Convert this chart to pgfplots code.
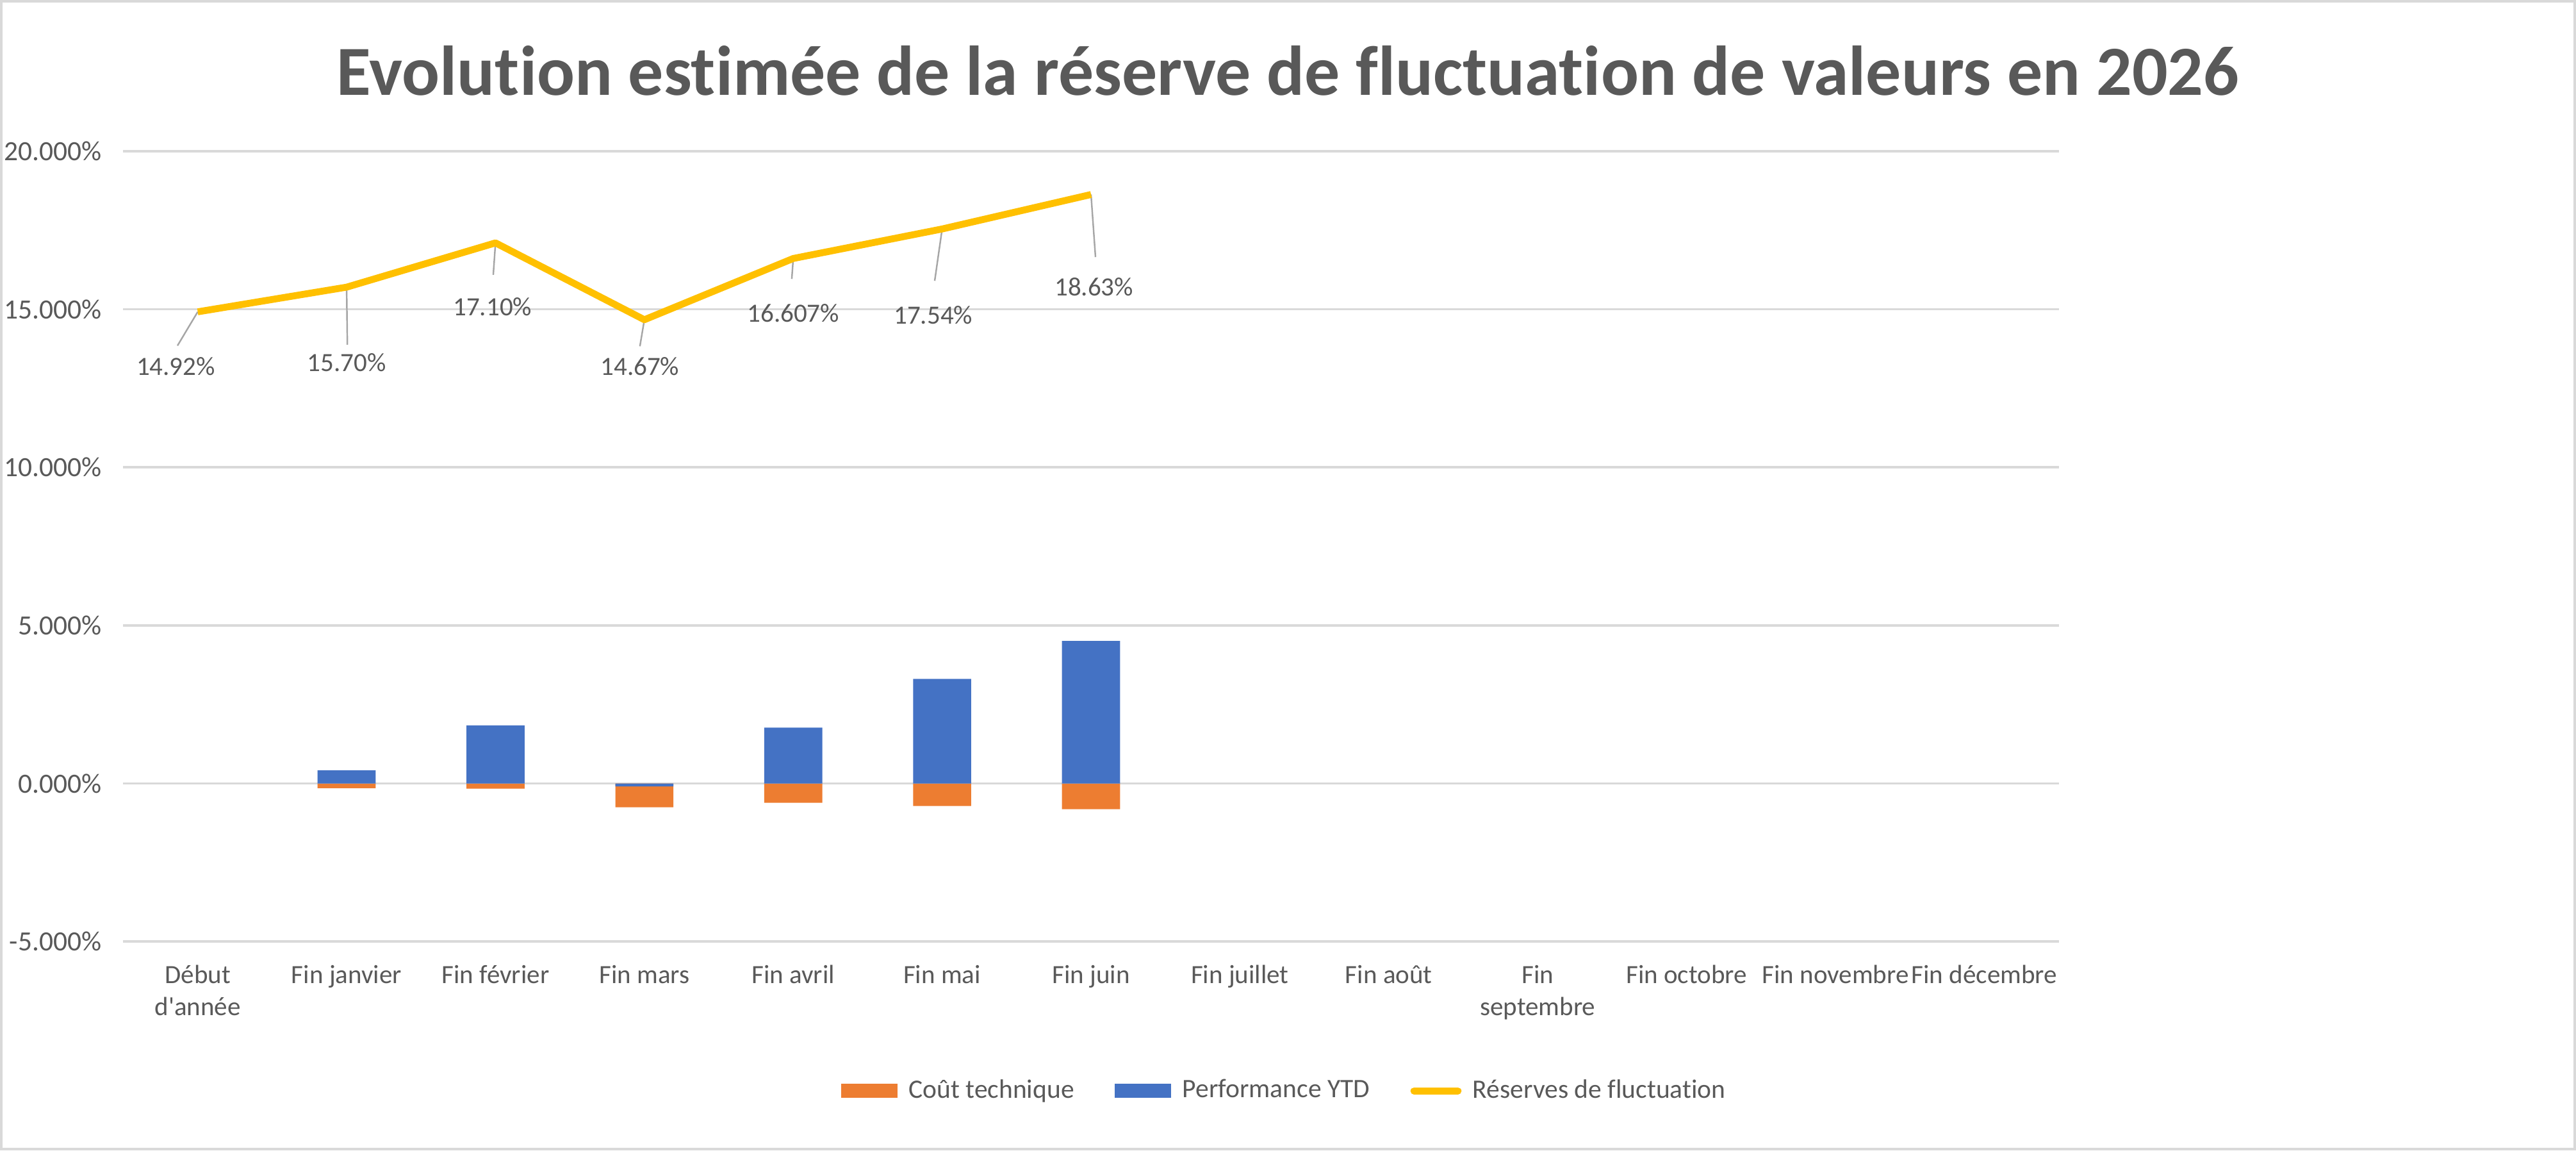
\documentclass[border=0pt]{standalone}
\usepackage{fontspec}
\setmainfont{Carlito}[Ligatures=NoCommon]
\usepackage{pgfplots}
\usepackage{pgfplotstable}
\pgfplotsset{compat=1.18}
\definecolor{txt}{HTML}{595959}
\definecolor{grd}{HTML}{D9D9D9}
\definecolor{cor}{HTML}{ED7D31}
\definecolor{cbl}{HTML}{4472C4}
\definecolor{cye}{HTML}{FFC000}
\definecolor{lead}{HTML}{A6A6A6}

\pgfplotstableread{
x y
0 14.92
1 15.70
2 17.10
3 14.67
4 16.607
5 17.54
6 18.63
}\reserve

\pgfplotstableread{
x y
1 -0.145
2 -0.16
3 -0.75
4 -0.61
5 -0.71
6 -0.81
}\cout

\pgfplotstableread{
x y
1 0.42
2 1.84
3 -0.09
4 1.77
5 3.31
6 4.51
}\perf

\pgfplotstableread{
x y lbl
-0.147 13.20 14.92
1.001 13.31 15.70
1.98 15.07 17.10
2.97 13.20 14.67
4.00 14.87 16.607
4.94 14.81 17.54
6.02 15.70 18.63
}\labels

\pgfplotstableread{
x y
0 14.92
-0.136 13.85
nan nan
1 15.70
1.005 13.88
nan nan
2 17.10
1.985 16.09
nan nan
3 14.67
2.97 13.83
nan nan
4 16.607
3.99 15.96
nan nan
5 17.54
4.95 15.90
nan nan
6 18.63
6.03 16.65
}\leaders

\begin{document}
\begin{tikzpicture}[x=1pt,y=1pt]
\useasboundingbox (0,0) rectangle (823.2,367.5);
\draw[grd, line width=0.75pt] (0.4,0.4) rectangle (822.8,367.1);
\node[anchor=base, font=\fontsize{22.5}{26}\selectfont\bfseries, text=txt] at (411.6,337) {Evolution estimée de la réserve de fluctuation de valeurs en 2026};
\begin{axis}[
  at={(39.4pt,66.7pt)}, anchor=south west,
  scale only axis, width=618.5pt, height=252.5pt,
  xmin=-0.5, xmax=12.5, ymin=-5, ymax=20,
  ytick={-5,0,5,10,15,20},
  yticklabels={-5.000\%,0.000\%,5.000\%,10.000\%,15.000\%,20.000\%},
  xtick={0,...,12},
  xticklabels={{Début\\d\textquotesingle année},Fin janvier,Fin février,Fin mars,Fin avril,Fin mai,Fin juin,Fin juillet,Fin août,{Fin\\septembre},Fin octobre,Fin novembre,Fin décembre},
  tick label style={font=\fontsize{8.4}{10.2}\selectfont, text=txt},
  xticklabel style={align=center, yshift=-4pt},
  yticklabel style={inner sep=0pt, xshift=-6.8pt, font=\fontsize{8.9}{10.2}\selectfont},
  axis line style={draw=none},
  major tick length=0pt,
  ymajorgrids, grid style={grd, line width=0.75pt},
  legend style={at={(0.601,-0.189)}, anchor=center, draw=none, legend columns=3,
    font=\fontsize{8.5}{10}\selectfont, text=txt,
    /tikz/every odd column/.append style={column sep=1.6pt},
    /tikz/every even column/.append style={column sep=11pt}},
  legend cell align=left,
]
\addplot[ybar, fill=cor, draw=none, bar width=0.39, bar shift=0pt,
  legend image code/.code={\fill[cor] (0pt,-2.25pt) rectangle (18pt,2.25pt);}] table {\cout};
\addlegendentry{Coût technique}
\addplot[ybar, fill=cbl, draw=none, bar width=0.39, bar shift=0pt,
  legend image code/.code={\fill[cbl] (0pt,-2.25pt) rectangle (18pt,2.25pt);}] table {\perf};
\addlegendentry{Performance YTD}
\addplot[lead, line width=0.5pt, unbounded coords=jump, forget plot] table {\leaders};
\addplot[cye, line width=2.2pt, line join=round, mark=none,
  legend image code/.code={\draw[cye, line width=2.3pt, line cap=round] (2pt,0pt) -- (16pt,0pt);}] table {\reserve};
\addlegendentry{Réserves de fluctuation}
\addplot[draw=none, mark=none, forget plot, point meta=explicit symbolic,
  nodes near coords={\pgfplotspointmeta\%},
  every node near coord/.append style={anchor=center, inner sep=0pt, font=\fontsize{8.4}{10}\selectfont, text=txt}]
  table[meta=lbl] {\labels};
\end{axis}
\end{tikzpicture}
\end{document}
